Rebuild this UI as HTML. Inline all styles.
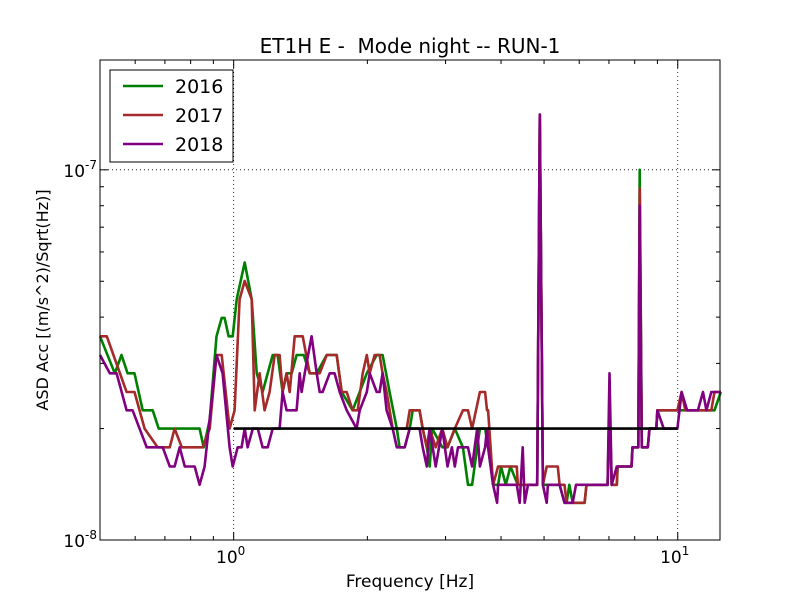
<!DOCTYPE html>
<html><head><meta charset="utf-8">
<style>
body{margin:0;background:#fff;}
svg{display:block;font-family:"DejaVu Sans","Liberation Sans",sans-serif;}
</style></head>
<body>
<svg id="chart" width="800" height="600" viewBox="0 0 800 600">
  <rect x="0" y="0" width="800" height="600" fill="#fff"/>
  <text x="410" y="53" text-anchor="middle" font-size="20" style="white-space:pre">ET1H E -  Mode night -- RUN-1</text>
  <g id="grid"></g>
  <g id="series"></g>
  <g id="axes"></g>
  <text x="410" y="587" text-anchor="middle" font-size="17">Frequency [Hz]</text>
  <text transform="translate(48,300) rotate(-90)" text-anchor="middle" font-size="16">ASD Acc [(m/s^2)/Sqrt(Hz)]</text>
  <g id="legend"></g>
</svg>
<script>
const xDomain = [0.5, 12.45];
const yDomain = [1e-8, 1.98e-7];
const seriesNames = ["2016", "2017", "2018"];
const unit = 1e-8;

const freq2016 = [0.500,0.540,0.559,0.577,0.598,0.624,0.657,0.678,0.838,0.856,0.883,0.915,0.940,0.954,0.974,0.995,1.016,1.059,1.098,1.127,1.162,1.224,1.256,1.289,1.316,1.351,1.386,1.438,1.483,1.538,1.620,1.706,1.751,1.853,1.922,1.994,2.099,2.165,2.245,2.330,2.364,2.427,2.491,2.530,2.623,2.665,2.722,2.764,2.80,2.95,3.03,3.147,3.283,3.371,3.443,3.536,3.584,3.682,3.740,3.838,3.940,4.0,4.1,4.2,4.363,4.825,4.89,4.97,5.07,5.37,5.42,5.56,5.62,5.7,5.8,6.17,6.23,6.95,7.02,7.10,7.29,7.32,7.87,7.91,8.15,8.21,8.3,8.56,8.64,8.95,9.0,9.98,10.2,12.1,12.5];
const asd2016 = [3.55,2.82,3.16,2.82,2.82,2.24,2.24,2.0,2.0,1.78,2.11,3.55,3.98,3.98,3.55,3.55,4.47,5.62,4.47,2.82,2.51,3.16,3.16,2.51,2.82,2.82,3.16,3.16,2.82,2.82,3.16,3.16,2.51,2.24,2.51,2.82,3.16,3.16,2.51,2.0,1.78,1.78,2.0,2.24,2.24,2.0,1.78,1.58,2.0,1.78,1.78,2.0,1.78,1.41,1.41,1.78,2.0,2.0,1.78,1.41,1.41,1.58,1.41,1.58,1.41,1.41,14.1,1.41,1.41,1.41,1.41,1.26,1.26,1.41,1.26,1.26,1.41,1.41,2.2,1.41,1.41,1.58,1.58,1.78,1.78,10.0,1.78,1.78,2.0,2.0,2.24,2.24,2.24,2.24,2.51];

const freq2017 = [0.500,0.518,0.574,0.598,0.630,0.674,0.718,0.736,0.764,0.851,0.883,0.915,0.940,0.979,1.005,1.031,1.059,1.098,1.115,1.144,1.174,1.205,1.237,1.269,1.289,1.316,1.337,1.372,1.430,1.483,1.562,1.620,1.706,1.751,1.797,1.853,1.902,1.952,1.994,2.024,2.077,2.131,2.165,2.210,2.281,2.453,2.491,2.623,2.665,2.722,2.764,2.85,2.95,3.03,3.147,3.283,3.371,3.443,3.584,3.682,3.720,3.740,3.838,3.940,4.341,4.363,4.825,4.89,4.97,5.07,5.37,5.42,5.56,5.62,6.17,6.23,6.95,7.02,7.10,7.29,7.32,7.87,7.91,8.15,8.21,8.3,8.56,8.64,8.95,9.0,9.3,9.98,10.2,10.4,11.9,12.1,12.5];
const asd2017 = [3.55,3.55,2.51,2.51,2.0,1.78,1.78,2.0,1.78,1.78,2.0,3.16,3.16,2.0,2.24,4.47,5.01,4.47,2.24,2.82,2.24,2.51,3.16,3.16,2.51,2.82,2.51,3.55,3.55,2.82,2.82,3.16,3.16,2.51,2.51,2.24,2.24,2.82,3.16,2.82,3.16,3.16,2.82,2.51,2.0,2.0,2.24,2.24,2.0,1.78,2.0,1.78,2.0,1.78,2.0,2.24,2.24,2.0,2.51,2.51,2.24,2.24,1.41,1.58,1.58,1.41,1.41,14.1,1.41,1.58,1.58,1.41,1.41,1.26,1.26,1.41,1.41,2.4,1.41,1.41,1.58,1.58,1.78,1.78,8.9,1.78,1.78,2.0,2.0,2.24,2.24,2.24,2.51,2.24,2.24,2.51,2.51];

const freq2018 = [0.500,0.526,0.545,0.574,0.592,0.637,0.692,0.718,0.736,0.756,0.776,0.817,0.838,0.860,0.915,0.944,0.979,0.995,1.021,1.042,1.059,1.075,1.104,1.133,1.162,1.193,1.224,1.269,1.289,1.316,1.386,1.408,1.422,1.445,1.498,1.538,1.562,1.586,1.645,1.688,1.733,1.797,1.892,1.922,1.994,2.024,2.099,2.131,2.165,2.210,2.281,2.330,2.427,2.491,2.583,2.623,2.665,2.722,2.764,2.85,2.95,3.03,3.1,3.147,3.2,3.283,3.371,3.443,3.536,3.584,3.682,3.720,3.740,3.838,3.919,3.940,4.2,4.341,4.407,4.475,4.522,4.6,4.825,4.89,4.97,5.07,5.10,5.37,5.42,5.56,5.8,5.9,6.17,6.95,7.02,7.10,7.29,7.87,7.91,8.15,8.21,8.3,8.56,8.64,8.95,9.0,9.3,9.98,10.2,10.5,11.1,11.4,11.6,11.9,12.5];
const asd2018 = [3.16,2.82,2.82,2.24,2.24,1.78,1.78,1.58,1.58,1.78,1.58,1.58,1.41,1.58,3.16,2.82,1.78,1.58,1.78,1.78,2.0,1.78,2.0,2.0,1.78,1.78,2.0,2.0,2.51,2.24,2.24,2.82,2.51,2.82,3.55,2.82,2.51,2.51,2.82,2.82,2.51,2.24,2.0,2.24,2.51,2.82,2.51,2.51,2.82,2.24,2.0,1.78,1.78,2.0,2.0,2.0,1.78,1.58,2.0,1.58,2.0,1.58,1.78,1.58,1.78,1.78,1.78,1.58,2.0,1.58,1.78,2.0,1.78,1.41,1.26,1.41,1.41,1.41,1.26,1.78,1.26,1.41,1.41,14.1,1.41,1.26,1.41,1.41,1.41,1.26,1.26,1.41,1.41,1.41,2.82,1.41,1.58,1.58,1.78,1.78,8.0,1.78,1.78,2.0,2.0,2.24,2.0,2.0,2.51,2.24,2.24,2.51,2.24,2.51,2.51];

const refFreq = [1, 10];
const refAsd = [2.0, 2.0];

const xTickValues = [1, 10];
const yTickValues = [1e-8, 1e-7];
const yTickExp = ["-8", "-7"];

const PL = 100, PR = 720, PT = 60, PB = 540;
const NS = "http://www.w3.org/2000/svg";
function xs(f){ return PL + (Math.log10(f) - Math.log10(xDomain[0])) / (Math.log10(xDomain[1]) - Math.log10(xDomain[0])) * (PR - PL); }
function ys(v){ return PB - (Math.log10(v) - Math.log10(yDomain[0])) / (Math.log10(yDomain[1]) - Math.log10(yDomain[0])) * (PB - PT); }
function mk(tag, attrs, parent){ const e = document.createElementNS(NS, tag); for (const k in attrs) e.setAttribute(k, attrs[k]); parent.appendChild(e); return e; }

const grid = document.getElementById('grid');
xTickValues.forEach(t => {
  const g = mk('line', {x1: xs(t), x2: xs(t), y1: PT, y2: PB, stroke: '#000', 'stroke-width': 0.8, 'stroke-dasharray': '1,3'}, grid);
  
  
});
yTickValues.forEach(t => {
  const g = mk('line', {x1: PL, x2: PR, y1: ys(t), y2: ys(t), stroke: '#000', 'stroke-width': 0.8, 'stroke-dasharray': '1,3'}, grid);
  
  
});

const seriesG = document.getElementById('series');
const colors = ['#008000', '#a52a2a', '#800080'];
const allF = [freq2016, freq2017, freq2018];
const allV = [asd2016, asd2017, asd2018];
allF.forEach((fa, i) => {
  const d = fa.map((f, j) => (j ? 'L' : 'M') + xs(f).toFixed(1) + ',' + ys(allV[i][j] * unit).toFixed(1)).join(' ');
  const p = mk('path', {d: d, fill: 'none', stroke: colors[i], 'stroke-width': 2.6, 'stroke-linejoin': 'round'}, seriesG);
  
  
});
const ref = mk('line', {x1: xs(refFreq[0]), x2: xs(refFreq[1]), y1: ys(refAsd[0] * unit), y2: ys(refAsd[1] * unit), stroke: '#000', 'stroke-width': 2.6}, seriesG);



const axes = document.getElementById('axes');
const frame = mk('rect', {x: PL, y: PT, width: PR - PL, height: PB - PT, fill: 'none', stroke: '#000', 'stroke-width': 1}, axes);


for (let dec = -1; dec <= 1; dec++) {
  for (let m = 1; m <= 9; m++) {
    const f = m * Math.pow(10, dec);
    if (f < xDomain[0] || f > xDomain[1]) continue;
    const L = m === 1 ? 8 : 4;
    const x = xs(f);
    const t1 = mk('line', {x1: x, x2: x, y1: PB, y2: PB - L, stroke: '#000', 'stroke-width': 1}, axes);
    
    
    const t2 = mk('line', {x1: x, x2: x, y1: PT, y2: PT + L, stroke: '#000', 'stroke-width': 1}, axes);
    
    
  }
}
for (let dec = -8; dec <= -7; dec++) {
  for (let m = 1; m <= 9; m++) {
    const v = m * Math.pow(10, dec);
    if (v < yDomain[0] || v > yDomain[1]) continue;
    const L = m === 1 ? 8 : 4;
    const y = ys(v);
    const t1 = mk('line', {x1: PL, x2: PL + L, y1: y, y2: y, stroke: '#000', 'stroke-width': 1}, axes);
    
    
    const t2 = mk('line', {x1: PR, x2: PR - L, y1: y, y2: y, stroke: '#000', 'stroke-width': 1}, axes);
    
    
  }
}
const xExp = ["0", "1"];
xTickValues.forEach((t, i) => {
  const tx = mk('text', {x: xs(t) - 3, y: PB + 23, 'text-anchor': 'middle', 'font-size': 17}, axes);
  
  
  tx.textContent = '10';
  const sup = mk('tspan', {dy: -8, 'font-size': 12}, tx);
  sup.textContent = xExp[i];
});
yTickValues.forEach((t, i) => {
  const tx = mk('text', {x: PL - 3, y: ys(t) + 7, 'text-anchor': 'end', 'font-size': 17}, axes);
  
  
  tx.textContent = '10';
  const sup = mk('tspan', {dy: -8, 'font-size': 12}, tx);
  sup.textContent = yTickExp[i];
});

const legend = document.getElementById('legend');
const box = mk('rect', {x: 110, y: 70, width: 123, height: 92, fill: '#fff', stroke: '#000', 'stroke-width': 1}, legend);


seriesNames.forEach((n, i) => {
  const y = 86 + i * 29;
  const l = mk('line', {x1: 123, x2: 163, y1: y, y2: y, stroke: colors[i], 'stroke-width': 2.6}, legend);
  
  
  const t = mk('text', {x: 175, y: y + 7, 'font-size': 19}, legend);
  
  
  t.textContent = n;
});
</script>
</body></html>
